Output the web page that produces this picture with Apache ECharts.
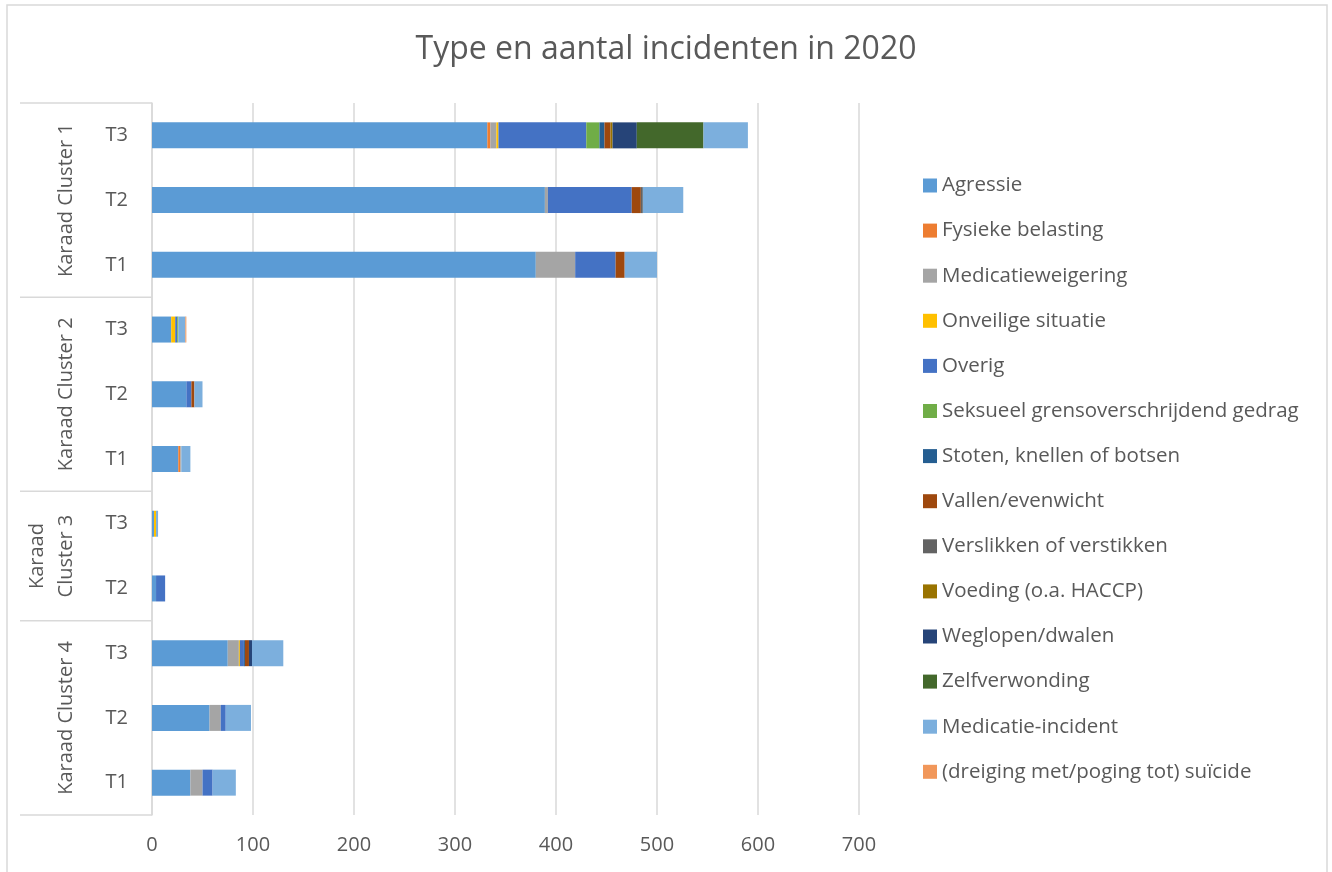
<!DOCTYPE html>
<html><head><meta charset="utf-8">
<script src="https://cdn.jsdelivr.net/npm/echarts@6/dist/echarts.min.js"></script>
<style>html,body{margin:0;padding:0;background:#fff}#c{width:1332px;height:872px}</style>
</head><body><div id="c"></div>
<script>
// ---- data ----
const categories = ['T3','T2','T1','T3','T2','T1','T3','T2','T3','T2','T1'];
const clusterNames = ['Karaad Cluster 1','Karaad Cluster 2','Karaad\nCluster 3','Karaad Cluster 4'];
const clusterSizes = [3,3,2,3];
const seriesNames = ['Agressie','Fysieke belasting','Medicatieweigering','Onveilige situatie','Overig',
  'Seksueel grensoverschrijdend gedrag','Stoten, knellen of botsen','Vallen/evenwicht',
  'Verslikken of verstikken','Voeding (o.a. HACCP)','Weglopen/dwalen','Zelfverwonding',
  'Medicatie-incident','(dreiging met/poging tot) suïcide'];
const agressie           = [332,389,380,19,34,26,2,4,75,57,38];
const fysiekeBelasting   = [3,0,0,0,0,2,0,0,0,0,0];
const medicatieweigering = [6,3,39,0,0,1,0,0,11,11,12];
const onveiligeSituatie  = [2,0,0,4,0,0,2,0,1,0,0];
const overig             = [87,83,40,2,5,0,0,9,4,5,10];
const seksueel           = [13,0,0,1,0,0,0,0,0,0,0];
const stoten             = [5,0,0,0,0,0,0,0,1,0,0];
const vallen             = [6,9,9,0,3,0,0,0,4,0,0];
const verslikken         = [0,2,0,0,0,0,0,0,0,0,0];
const voeding            = [2,0,0,0,0,0,0,0,0,0,0];
const weglopen           = [24,0,0,0,0,0,0,0,3,0,0];
const zelfverwonding     = [66,0,0,0,0,0,0,0,0,0,0];
const medicatieIncident  = [44,40,32,7,8,9,2,0,31,25,23];
const suicide            = [0,0,0,1,0,0,0,0,0,0,0];
const xTickMin = 0, xTickMax = 700, xTickStep = 100;

const seriesData = [agressie,fysiekeBelasting,medicatieweigering,onveiligeSituatie,overig,seksueel,
  stoten,vallen,verslikken,voeding,weglopen,zelfverwonding,medicatieIncident,suicide];
const colors = ['#5B9BD5','#ED7D31','#A5A5A5','#FFC000','#4472C4','#70AD47','#255E91','#9E480E',
  '#636363','#997300','#264478','#43682B','#7CAFDD','#F1975A'];

const FONT = 'Open Sans';
const TXT = '#595959';
const chart = echarts.init(document.getElementById('c'));
const option = {
  animation: false,
  color: colors,
  title: {
    text: 'Type en aantal incidenten in 2020', left: 'center', top: 29,
    textStyle: {fontFamily: FONT, fontSize: 32, fontWeight: 'normal', color: TXT}
  },
  legend: {
    orient: 'vertical', left: 918, top: 170, icon: 'rect', itemWidth: 14, itemHeight: 14, itemGap: 24.1,
    textStyle: {fontFamily: FONT, fontSize: 20.5, color: TXT, lineHeight: 20}
  },
  grid: {left: 152, right: 473, top: 103, bottom: 57, containLabel: false, outerBoundsMode: 'none'},
  xAxis: {
    type: 'value', min: xTickMin, max: xTickMax, interval: xTickStep,
    axisLine: {show: false}, axisTick: {show: false},
    splitLine: {lineStyle: {color: '#D9D9D9', width: 1.5}},
    axisLabel: {fontFamily: FONT, fontSize: 20, color: TXT, margin: 20}
  },
  yAxis: {
    type: 'category', inverse: true, data: categories,
    axisLine: {lineStyle: {color: '#D9D9D9', width: 1.5}}, axisTick: {show: false},
    axisLabel: {fontFamily: FONT, fontSize: 20, color: TXT, margin: 24}
  },
  series: seriesNames.map((n, i) => ({
    name: n, type: 'bar', stack: 'total', barWidth: 26, data: seriesData[i]
  }))
};
chart.setOption(option);

// multi-level category labels and separators, positioned from the axis scale
const y0 = chart.convertToPixel({yAxisIndex: 0}, 0);
const y1 = chart.convertToPixel({yAxisIndex: 0}, categories.length - 1);
const step = (y1 - y0) / (categories.length - 1);
const axisX = chart.convertToPixel({xAxisIndex: 0}, 0);
const graphics = [{
  type: 'rect', shape: {x: 7, y: 5, width: 1320, height: 900},
  style: {fill: 'none', stroke: '#D9D9D9', lineWidth: 1.5}, silent: true
}];
let start = 0;
const bounds = [y0 - step / 2];
clusterSizes.forEach((s, k) => {
  const top = y0 + (start - 0.5) * step;
  const bot = y0 + (start + s - 0.5) * step;
  bounds.push(bot);
  const multi = clusterNames[k].indexOf('\n') >= 0;
  graphics.push({
    type: 'text', x: multi ? 52 : 66, y: (top + bot) / 2, rotation: Math.PI / 2,
    style: {text: clusterNames[k], fontFamily: FONT, fontSize: 20, fill: TXT,
      align: 'center', verticalAlign: 'middle', lineHeight: 29}
  });
  start += s;
});
bounds.forEach(b => graphics.push({
  type: 'line', shape: {x1: 20, y1: b, x2: axisX, y2: b},
  style: {stroke: '#D9D9D9', lineWidth: 1.5}, silent: true
}));
chart.setOption({graphic: graphics});
</script></body></html>
